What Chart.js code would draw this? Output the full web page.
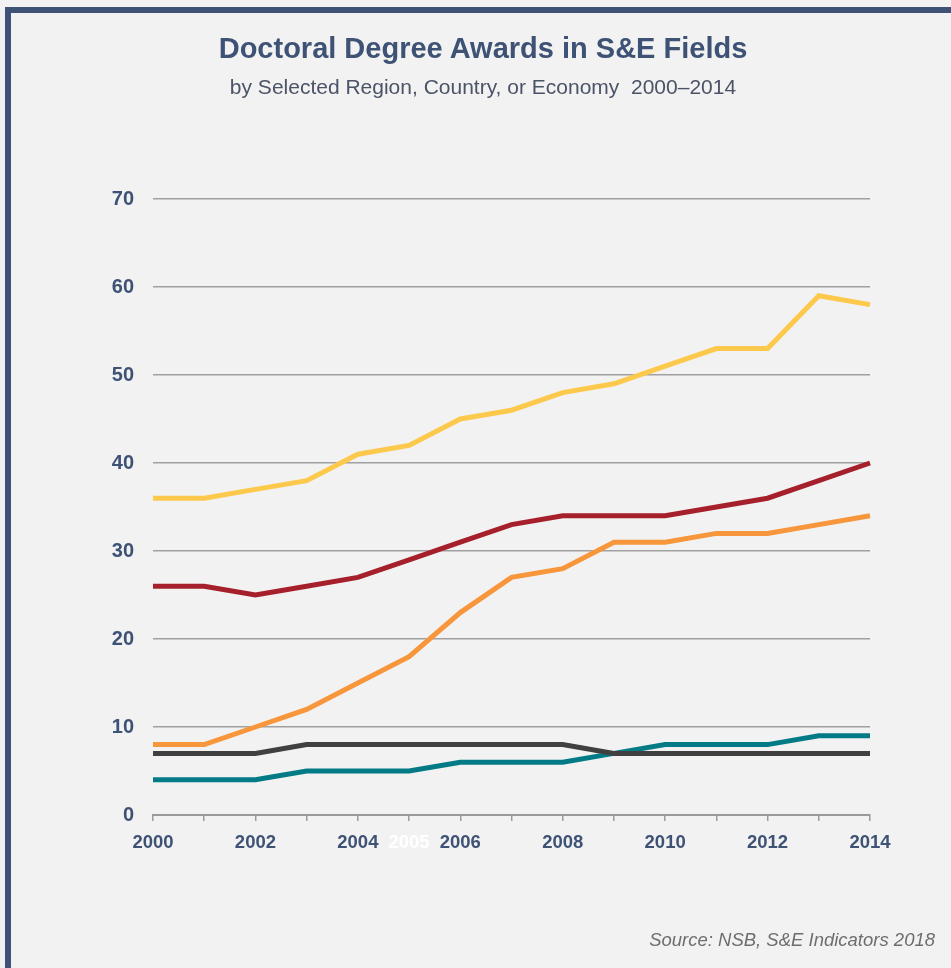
<!DOCTYPE html>
<html>
<head>
<meta charset="utf-8">
<script src="https://cdn.jsdelivr.net/npm/chart.js@4"></script>
<style>
    html, body { margin: 0; padding: 0; background: #f2f2f2; }
    body { width: 951px; height: 968px; position: relative; overflow: hidden; }
    .frame {
        position: absolute; left: 5px; top: 7px; right: -10px; bottom: -10px;
        border-left: 6px solid #3e5275; border-top: 6px solid #3e5275;
    }
    #wrap { position: absolute; left: 0; top: 0; width: 951px; height: 968px; }
    .title, .subtitle {
        position: absolute; left: 0; width: 966px; text-align: center;
        font-family: "Liberation Sans", Arial, sans-serif; white-space: nowrap;
    }
    .title { top: 32px; font-size: 29px; font-weight: bold; color: #3e5275; }
    .subtitle { top: 75px; font-size: 21px; color: #4b5366; }
    .source {
        position: absolute; right: 16px; top: 929px;
        font: italic 18.5px "Liberation Sans", Arial, sans-serif; color: #6e6e6e;
    }
</style>
</head>
<body>
<div class="frame"></div>
<div id="wrap"><canvas id="phdChart"></canvas></div>
<div class="title">Doctoral Degree Awards in S&amp;E Fields</div>
<div class="subtitle">by Selected Region, Country, or Economy&nbsp; 2000–2014</div>
<div class="source">Source: NSB, S&amp;E Indicators 2018</div>
<script>
// Doctoral degrees in S&E fields (thousands), 2000-2014
const years = ['2000', '2001', '2002', '2003', '2004', '2005', '2006', '2007',
    '2008', '2009', '2010', '2011', '2012', '2013', '2014'];
const yellowSeries = [36, 36, 37, 38, 41, 42, 45, 46, 48, 49, 51, 53, 53, 59, 58];
const redSeries = [26, 26, 25, 26, 27, 29, 31, 33, 34, 34, 34, 35, 36, 38, 40];
const orangeSeries = [8, 8, 10, 12, 15, 18, 23, 27, 28, 31, 31, 32, 32, 33, 34];
const graySeries = [7, 7, 7, 8, 8, 8, 8, 8, 8, 7, 7, 7, 7, 7, 7];
const tealSeries = [4, 4, 4, 5, 5, 5, 6, 6, 6, 7, 8, 8, 8, 9, 9];
const shownYears = ['2000', '2002', '2004', '2005', '2006', '2008', '2010', '2012', '2014'];

const FONT = '"Liberation Sans", Arial, Helvetica, sans-serif';
const NAVY = '#3e5275';

function line(data, color) {
    return {
        data: data,
        borderColor: color,
        backgroundColor: color,
        borderWidth: 5,
        pointRadius: 0,
        pointHoverRadius: 0,
        tension: 0,
        fill: false
    };
}

const canvas = document.getElementById('phdChart');
new Chart(canvas.getContext('2d'), {
    type: 'line',
    data: {
        labels: years,
        datasets: [
            line(yellowSeries, '#fcc94c'),
            line(redSeries, '#a6202b'),
            line(orangeSeries, '#f7963b'),
            line(graySeries, '#404040'),
            line(tealSeries, '#027b86')
        ]
    },
    options: {
        responsive: true,
        maintainAspectRatio: false,
        animation: false,
        layout: { padding: { left: 0, right: 81, top: 199, bottom: 93 } },
        plugins: {
            legend: { display: false },
            tooltip: { enabled: false }
        },
        scales: {
            x: {
                afterFit: s => { s.height = 60; },
                grid: {
                    drawOnChartArea: false,
                    drawTicks: true,
                    tickLength: 6,
                    color: '#9a9a9a',
                    lineWidth: 1.5
                },
                border: { color: '#9a9a9a', width: 2 },
                ticks: {
                    autoSkip: false,
                    maxRotation: 0,
                    padding: 11,
                    font: { family: FONT, size: 18.5, weight: 'bold' },
                    color: ctx => (ctx.tick && ctx.tick.label === '2005') ? '#ffffff' : NAVY,
                    callback: function (value) {
                        const lbl = this.getLabelForValue(value);
                        return shownYears.includes(lbl) ? lbl : '';
                    }
                }
            },
            y: {
                min: 0,
                max: 70,
                afterFit: s => { s.width = 153; },
                grid: { color: '#a0a0a0', lineWidth: 1.5, drawTicks: false },
                border: { display: false },
                ticks: {
                    stepSize: 10,
                    padding: 19,
                    font: { family: FONT, size: 20, weight: 'bold' },
                    color: NAVY
                }
            }
        }
    }
});
</script>
</body>
</html>
